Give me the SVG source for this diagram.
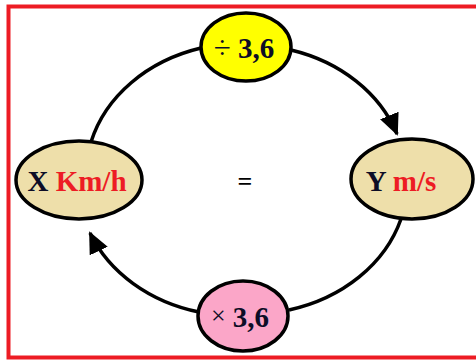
<svg xmlns="http://www.w3.org/2000/svg" width="476" height="360" viewBox="0 0 476 360">
<style>
.t{font-family:"Liberation Serif","Times New Roman",serif;font-weight:bold;text-anchor:middle}
.n{fill:#0d0d26}
.r{fill:#ED1C24}
.e{stroke:#000;stroke-width:3.5}
.c{fill:none;stroke:#000;stroke-width:3.5}
</style>
<defs>
<marker id="ah" markerUnits="userSpaceOnUse" markerWidth="24" markerHeight="22" refX="20" refY="10" orient="auto">
<path d="M0,0 L22,10 L0,20 Z" fill="#000"/>
</marker>
</defs>
<rect x="8.5" y="6.5" width="480" height="351" fill="#fff" stroke="#ED1C24" stroke-width="4"/>
<g id="connectors">
<path class="c" d="M91,142 A158,133 0 0 1 201,48"/>
<path class="c" d="M291,50 A158,133 0 0 1 397,134" marker-end="url(#ah)"/>
<path class="c" d="M401,219 A158,133 0 0 1 289,310"/>
<path class="c" d="M199,312 A158,133 0 0 1 90,233" marker-end="url(#ah)"/>
</g>
<g id="div">
<ellipse class="e" cx="246" cy="47" rx="45" ry="34" fill="#FFFF00"/>
<text class="t n" x="244" y="58" font-size="29"><tspan font-weight="normal" font-size="31">÷</tspan> 3,6</text>
</g>
<g id="kmh">
<ellipse class="e" cx="79" cy="180" rx="63" ry="39" fill="#EEDFAA"/>
<text class="t" x="77" y="191" font-size="29"><tspan class="n">X</tspan> <tspan class="r">Km/h</tspan></text>
</g>
<g id="eq">
<text class="t" x="245" y="190" font-size="26" fill="#000">=</text>
</g>
<g id="ms">
<ellipse class="e" cx="412" cy="179" rx="61" ry="40" fill="#EEDFAA"/>
<text class="t" x="401" y="191" font-size="29"><tspan class="n">Y</tspan> <tspan class="r">m/s</tspan></text>
</g>
<g id="mul">
<ellipse class="e" cx="243" cy="316" rx="45" ry="35" fill="#FBA6C8"/>
<text class="t n" x="240" y="327" font-size="29"><tspan font-weight="normal" font-size="26" dy="-3">×</tspan><tspan dy="3"> 3,6</tspan></text>
</g>
</svg>
